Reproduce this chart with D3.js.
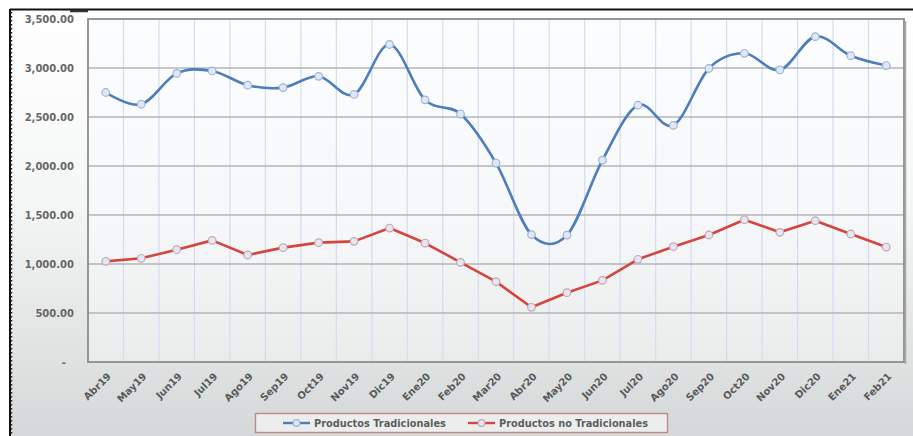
<!DOCTYPE html>
<html>
<head>
<meta charset="utf-8">
<script src="https://cdn.jsdelivr.net/npm/d3@7"></script>
<style>
  html, body { margin: 0; padding: 0; background: #ffffff; }
  svg { display: block; }
  text { font-family: "DejaVu Sans", Verdana, sans-serif; }
</style>
</head>
<body>
<svg id="chart" width="913" height="436"></svg>
<script>
// Monthly exports, Apr 2019 – Feb 2021
const months = ["Abr19","May19","Jun19","Jul19","Ago19","Sep19","Oct19","Nov19","Dic19",
  "Ene20","Feb20","Mar20","Abr20","May20","Jun20","Jul20","Ago20","Sep20","Oct20",
  "Nov20","Dic20","Ene21","Feb21"];
const tradicionales = [2750, 2630, 2945, 2970, 2825, 2800, 2915, 2730, 3240,
  2675, 2530, 2030, 1300, 1295, 2060, 2620, 2415, 2995, 3150,
  2980, 3320, 3125, 3025];
const noTradicionales = [1027, 1058, 1146, 1241, 1092, 1167, 1218, 1231, 1367,
  1214, 1017, 820, 558, 707, 833, 1048, 1177, 1296, 1452,
  1323, 1442, 1306, 1173];
const yTicks = [0, 500, 1000, 1500, 2000, 2500, 3000, 3500];
const seriesNames = ["Productos Tradicionales", "Productos no Tradicionales"];

const W = 913, H = 436;
const plot = { left: 88, right: 904, top: 19, bottom: 362 };

const svg = d3.select("#chart");
const defs = svg.append("defs");

const bgGrad = defs.append("linearGradient").attr("id", "bgGrad")
  .attr("x1", 0).attr("y1", 0).attr("x2", 0).attr("y2", 1);
bgGrad.append("stop").attr("offset", "0%").attr("stop-color", "#ffffff");
bgGrad.append("stop").attr("offset", "45%").attr("stop-color", "#f5f6f6");
bgGrad.append("stop").attr("offset", "100%").attr("stop-color", "#d5d8d8");

const plotGrad = defs.append("linearGradient").attr("id", "plotGrad")
  .attr("x1", 0).attr("y1", 0).attr("x2", 0).attr("y2", 1);
plotGrad.append("stop").attr("offset", "0%").attr("stop-color", "#fcfdfe");
plotGrad.append("stop").attr("offset", "60%").attr("stop-color", "#f6f7f8");
plotGrad.append("stop").attr("offset", "100%").attr("stop-color", "#eaecec");

// Chart frame background
svg.append("rect").attr("x", 10).attr("y", 10).attr("width", W - 10).attr("height", H - 10)
  .attr("fill", "url(#bgGrad)");

// Frame edges
svg.append("line").attr("x1", 10).attr("x2", W).attr("y1", 9.5).attr("y2", 9.5)
  .attr("stroke", "#111").attr("stroke-width", 2);
svg.append("line").attr("x1", 70).attr("x2", 88).attr("y1", 11).attr("y2", 11)
  .attr("stroke", "#333").attr("stroke-width", 2.5);
svg.append("line").attr("x1", 10).attr("x2", 10).attr("y1", 9).attr("y2", H)
  .attr("stroke", "#111").attr("stroke-width", 2);
svg.append("line").attr("x1", 11.5).attr("x2", 11.5).attr("y1", 12).attr("y2", H)
  .attr("stroke", "#222").attr("stroke-width", 1.5).attr("stroke-dasharray", "1.5,2.5");

// Scales
const x = d3.scaleBand().domain(months).range([plot.left, plot.right]);
const y = d3.scaleLinear().domain([0, 3500]).range([plot.bottom, plot.top]);
const cx = d => x(d) + x.bandwidth() / 2;

// Plot area
svg.append("rect").attr("x", plot.left).attr("y", plot.top)
  .attr("width", plot.right - plot.left).attr("height", plot.bottom - plot.top)
  .attr("fill", "url(#plotGrad)");

// Vertical gridlines between categories
svg.append("g").selectAll("line").data(months.slice(1)).join("line")
  .attr("x1", d => x(d)).attr("x2", d => x(d))
  .attr("y1", plot.top).attr("y2", plot.bottom)
  .attr("stroke", "#d3dcef").attr("stroke-width", 1.2);

// Horizontal gridlines
svg.append("g").selectAll("line").data(yTicks.filter(v => v > 0 && v < 3500)).join("line")
  .attr("x1", plot.left).attr("x2", plot.right)
  .attr("y1", d => y(d)).attr("y2", d => y(d))
  .attr("stroke", "#b4b4b4").attr("stroke-width", 1.6);

// Plot border
svg.append("rect").attr("x", plot.left).attr("y", plot.top)
  .attr("width", plot.right - plot.left).attr("height", plot.bottom - plot.top)
  .attr("fill", "none").attr("stroke", "#8c8c8c").attr("stroke-width", 1.8);
svg.append("line").attr("x1", plot.right + 1.5).attr("x2", plot.right + 1.5)
  .attr("y1", plot.top + 2).attr("y2", plot.bottom + 2)
  .attr("stroke", "#a8a8a8").attr("stroke-width", 1.5);

// Y axis
const yAxis = svg.append("g").attr("transform", `translate(${plot.left - 14},0)`)
  .call(d3.axisLeft(y).tickValues(yTicks).tickSize(0).tickPadding(0)
    .tickFormat(d => d === 0 ? "-" : d3.format(",.2f")(d)));
yAxis.select(".domain").remove();
yAxis.selectAll("text")
  .attr("fill", "#666").attr("font-size", 10).attr("font-weight", "bold")
  .attr("font-family", "'DejaVu Sans', Verdana, sans-serif");
yAxis.selectAll(".tick").filter(d => d === 0).select("text").attr("dx", -8);

// X axis labels, rotated
const xAxis = svg.append("g").attr("transform", `translate(0,${plot.bottom})`)
  .call(d3.axisBottom(x).tickSize(0).tickPadding(0));
xAxis.select(".domain").remove();
xAxis.selectAll("text")
  .attr("fill", "#5a5a5a").attr("font-size", 10).attr("font-weight", "bold")
  .attr("font-family", "'DejaVu Sans', Verdana, sans-serif")
  .attr("text-anchor", "end")
  .attr("dy", 0)
  .attr("transform", "translate(6,15) rotate(-45)");

// Series lines
const blue = "#4d7dbb", red = "#d4463d";
const lineSmooth = d3.line().x((d, i) => cx(months[i])).y(d => y(d))
  .curve(d3.curveCardinal.tension(0));
const lineStraight = d3.line().x((d, i) => cx(months[i])).y(d => y(d));

svg.append("path").datum(noTradicionales).attr("d", lineStraight)
  .attr("fill", "none").attr("stroke", red).attr("stroke-width", 2.6)
  .attr("stroke-linejoin", "round");
svg.append("path").datum(tradicionales).attr("d", lineSmooth)
  .attr("fill", "none").attr("stroke", blue).attr("stroke-width", 2.6);

// Markers
function markers(values, strokeColor) {
  svg.append("g").selectAll("circle").data(values).join("circle")
    .attr("cx", (d, i) => cx(months[i])).attr("cy", d => y(d)).attr("r", 3.8)
    .attr("fill", "#e2e7f3").attr("stroke", strokeColor).attr("stroke-width", 1.2);
}
markers(noTradicionales, "#c8a6b2");
markers(tradicionales, "#9bb6da");

// Legend
const legend = svg.append("g");
legend.append("rect").attr("x", 255.5).attr("y", 413.5).attr("width", 412).attr("height", 19)
  .attr("fill", "#eceeee").attr("stroke", "#c08888").attr("stroke-width", 1.4);
const legendItems = [
  { name: seriesNames[0], color: blue, mk: "#9bb6da", x: 283 },
  { name: seriesNames[1], color: red, mk: "#c8a6b2", x: 468 }
];
legendItems.forEach(it => {
  legend.append("line").attr("x1", it.x).attr("x2", it.x + 27).attr("y1", 423).attr("y2", 423)
    .attr("stroke", it.color).attr("stroke-width", 2.4);
  legend.append("circle").attr("cx", it.x + 13.5).attr("cy", 423).attr("r", 3.4)
    .attr("fill", "#e2e7f3").attr("stroke", it.mk).attr("stroke-width", 1.2);
  legend.append("text").attr("x", it.x + 31).attr("y", 426.5)
    .attr("fill", "#5e5e5e").attr("font-size", 9.8).attr("font-weight", "bold")
    .text(it.name);
});
</script>
</body>
</html>
